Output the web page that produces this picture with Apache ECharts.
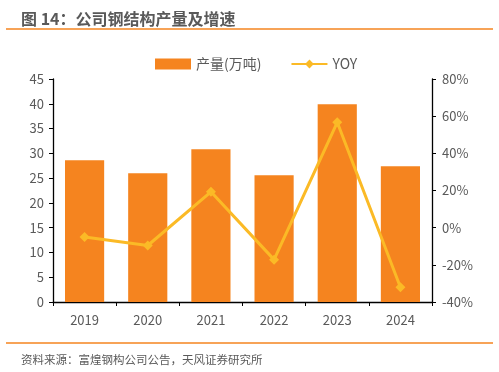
<!DOCTYPE html>
<html><head><meta charset="utf-8">
<script src="https://cdn.jsdelivr.net/npm/echarts@6/dist/echarts.min.js"></script>
<style>html,body{margin:0;padding:0;background:#fff}#c{width:499px;height:372px}</style>
</head><body><div id="c"></div>
<script>
var categories = ['2019','2020','2021','2022','2023','2024'];
var output = [28.6, 26.0, 30.8, 25.6, 39.9, 27.4];
var yoy = [-5.0, -9.6, 19.3, -17.2, 56.7, -32.1];
var leftTicks = {min: 0, max: 45, interval: 5};
var rightTicks = {min: -40, max: 80, interval: 20};

var font = '"Microsoft YaHei","Noto Sans CJK SC",sans-serif';
var chart = echarts.init(document.getElementById('c'), null, {renderer: 'canvas'});
chart.setOption({
  animation: false,
  textStyle: {fontFamily: font},
  title: [
    {text: '图 14：公司钢结构产量及增速', left: 16, top: 6,
     textStyle: {fontSize: 16, fontWeight: 'bold', color: '#595959', fontFamily: font}},
    {text: '资料来源：富煌钢构公司公告，天风证券研究所', left: 16, top: 349,
     textStyle: {fontSize: 11.5, fontWeight: 'normal', color: '#595959', fontFamily: font}}
  ],
  graphic: [
    {type: 'line', shape: {x1: 6, y1: 29, x2: 493, y2: 29}, style: {stroke: '#F5841F', lineWidth: 1.5}},
    {type: 'line', shape: {x1: 6, y1: 343, x2: 493, y2: 343}, style: {stroke: '#F5841F', lineWidth: 1.5}}
  ],
  legend: {
    top: 52, left: 150, itemGap: 29, itemWidth: 36, itemHeight: 11,
    textStyle: {fontSize: 14, color: '#595959', fontFamily: font},
    data: [
      {name: '产量(万吨)', icon: 'rect'},
      {name: 'YOY'}
    ]
  },
  grid: {left: 53, right: 67, top: 79, bottom: 70, containLabel: false},
  xAxis: {
    type: 'category', data: categories,
    axisLine: {lineStyle: {color: '#000', width: 1.3}},
    axisTick: {show: true, alignWithLabel: false, length: 4, lineStyle: {color: '#000'}},
    axisLabel: {fontSize: 13, color: '#595959', margin: 12}
  },
  yAxis: [
    {type: 'value', min: leftTicks.min, max: leftTicks.max, interval: leftTicks.interval,
     splitLine: {show: false},
     axisLine: {show: true, lineStyle: {color: '#000', width: 1.3}},
     axisTick: {show: true, length: 4, lineStyle: {color: '#000'}},
     axisLabel: {fontSize: 13, color: '#595959', margin: 9}},
    {type: 'value', min: rightTicks.min, max: rightTicks.max, interval: rightTicks.interval,
     splitLine: {show: false}, position: 'right',
     axisLine: {show: true, lineStyle: {color: '#000', width: 1.3}},
     axisTick: {show: true, length: 4, lineStyle: {color: '#000'}},
     axisLabel: {fontSize: 13, color: '#595959', margin: 10, formatter: '{value}%'}}
  ],
  series: [
    {name: '产量(万吨)', type: 'bar', data: output, barWidth: '62%',
     itemStyle: {color: '#F5841F'}, yAxisIndex: 0},
    {name: 'YOY', type: 'line', data: yoy, yAxisIndex: 1,
     symbol: 'diamond', symbolSize: 10,
     lineStyle: {color: '#FBBA26', width: 3},
     itemStyle: {color: '#FBBA26'}}
  ]
});
</script></body></html>
